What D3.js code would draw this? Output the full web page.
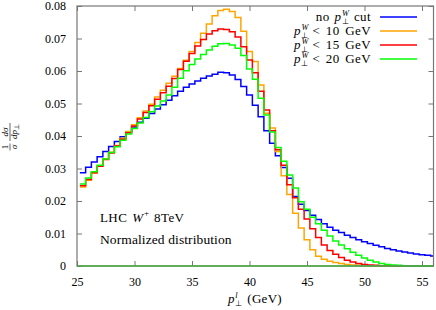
<!DOCTYPE html>
<html>
<head>
<meta charset="utf-8">
<script src="https://cdn.jsdelivr.net/npm/d3@7"></script>
<style>
body { margin: 0; background: #fff; }
text { font-family: 'Liberation Serif', 'Times New Roman', serif; fill: #000; }
</style>
</head>
<body>
<script>
// histogram bins: centres from 25.5 GeV, 0.5 GeV wide
var binStart = 25.5, binWidth = 0.5;

// normalized p_T^l distributions
var noCut = [0.0287, 0.0304, 0.0320, 0.0336, 0.0352, 0.0368, 0.0383, 0.0398, 0.0413, 0.0428,
  0.0442, 0.0455, 0.0469, 0.0483, 0.0496, 0.0510, 0.0524, 0.0538, 0.0550, 0.0560,
  0.0569, 0.0578, 0.0585, 0.0590, 0.0596, 0.0595, 0.0588, 0.0574, 0.0552, 0.0526,
  0.0495, 0.0459, 0.0416, 0.0378, 0.0339, 0.0303, 0.0270, 0.0214, 0.0190, 0.0171,
  0.0156, 0.0143, 0.0130, 0.0119, 0.0110, 0.0103, 0.0095, 0.0088, 0.0081, 0.0075,
  0.0069, 0.0064, 0.0059, 0.0054, 0.0050, 0.0046, 0.0043, 0.0040, 0.0037, 0.0035,
  0.0033, 0.0031];
var cut10 = [0.0243, 0.0264, 0.0286, 0.0308, 0.0329, 0.0350, 0.0371, 0.0393, 0.0414, 0.0435,
  0.0456, 0.0477, 0.0498, 0.0520, 0.0541, 0.0562, 0.0584, 0.0608, 0.0633, 0.0660,
  0.0688, 0.0716, 0.0745, 0.0770, 0.0786, 0.0790, 0.0783, 0.0765, 0.0722, 0.0660,
  0.0629, 0.0557, 0.0470, 0.0425, 0.0352, 0.0278, 0.0220, 0.0162, 0.0117, 0.0081,
  0.0050, 0.0030, 0.0021, 0.0015, 0.0011, 0.0008, 0.0005, 0.0003, 0.0002, 0.0001,
  0, 0, 0, 0, 0, 0, 0, 0, 0, 0, 0, 0];
var cut15 = [0.0247, 0.0266, 0.0287, 0.0307, 0.0328, 0.0348, 0.0369, 0.0390, 0.0410, 0.0431,
  0.0452, 0.0472, 0.0493, 0.0513, 0.0533, 0.0553, 0.0577, 0.0605, 0.0630, 0.0654,
  0.0677, 0.0697, 0.0714, 0.0724, 0.0729, 0.0728, 0.0721, 0.0705, 0.0675, 0.0634,
  0.0595, 0.0538, 0.0480, 0.0416, 0.0358, 0.0310, 0.0250, 0.0210, 0.0175, 0.0145,
  0.0115, 0.0088, 0.0065, 0.0048, 0.0036, 0.0026, 0.0018, 0.0012, 0.0008, 0.0005,
  0.0003, 0.0002, 0.0001, 0.0001, 0, 0, 0, 0, 0, 0, 0, 0];
var cut20 = [0.0252, 0.0271, 0.0290, 0.0310, 0.0329, 0.0349, 0.0367, 0.0387, 0.0406, 0.0423,
  0.0440, 0.0457, 0.0475, 0.0492, 0.0508, 0.0526, 0.0550, 0.0578, 0.0601, 0.0620,
  0.0637, 0.0651, 0.0665, 0.0676, 0.0684, 0.0685, 0.0680, 0.0670, 0.0648, 0.0606,
  0.0575, 0.0516, 0.0465, 0.0412, 0.0365, 0.0322, 0.0280, 0.0240, 0.0198, 0.0175,
  0.0150, 0.0130, 0.0110, 0.0092, 0.0077, 0.0065, 0.0053, 0.0042, 0.0033, 0.0025,
  0.0018, 0.0012, 0.0008, 0.0005, 0.0003, 0.0002, 0.0001, 0, 0, 0, 0, 0];

var seriesData = [noCut, cut10, cut15, cut20];
var seriesColors = ['#0000ff', '#ffa500', '#ff0000', '#00ff00'];
var legendCuts = [null, '10', '15', '20'];

var xTicks = [25, 30, 35, 40, 45, 50, 55];
var yTicks = [0, 0.01, 0.02, 0.03, 0.04, 0.05, 0.06, 0.07, 0.08];

var width = 436, height = 310;
// plot box (note: 'top' is reserved on window, so prefixed names)
var pLeft = 77, pRight = 433.5, pTop = 6, pBottom = 266;
var frameColor = '#777';

var svg = d3.select('body').append('svg').attr('width', width).attr('height', height);

var x = d3.scaleLinear().domain([25, 56]).range([pLeft, pRight]);
var y = d3.scaleLinear().domain([0, 0.08]).range([pBottom, pTop]);

svg.append('clipPath').attr('id', 'plotclip')
  .append('rect').attr('x', pLeft).attr('y', pTop - 2).attr('width', pRight - pLeft).attr('height', pBottom - pTop + 4);

//ticks (inward, all four sides)
function styleAxis(g) {
  g.select('.domain').remove();
  g.selectAll('line').attr('stroke', frameColor).attr('stroke-width', 1);
  g.selectAll('text').style('font-family', "'Liberation Serif', serif").style('font-size', '12px').attr('fill', '#000');
}
svg.append('g').attr('transform', 'translate(0,' + pBottom + ')')
  .call(d3.axisBottom(x).tickValues(xTicks).tickSize(-5).tickPadding(11).tickFormat(d3.format('d')))
  .call(styleAxis);
svg.append('g').attr('transform', 'translate(0,' + pTop + ')')
  .call(d3.axisTop(x).tickValues(xTicks).tickSize(-5).tickFormat(''))
  .call(styleAxis);
svg.append('g').attr('transform', 'translate(' + pLeft + ',0)')
  .call(d3.axisLeft(y).tickValues(yTicks).tickSize(-5).tickPadding(11)
    .tickFormat(function (d) { return d === 0 ? '0' : d3.format('.2f')(d); }))
  .call(styleAxis);
svg.append('g').attr('transform', 'translate(' + pRight + ',0)')
  .call(d3.axisRight(y).tickValues(yTicks).tickSize(-5).tickFormat(''))
  .call(styleAxis);

// histogram steps
var line = d3.line().x(function (d) { return x(d[0]); }).y(function (d) { return y(d[1]); });
function steps(vals) {
  var pts = [];
  vals.forEach(function (v, i) {
    var c = binStart + i * binWidth;
    pts.push([c - binWidth / 2, v]);
    pts.push([c + binWidth / 2, v]);
  });
  return pts;
}
var plot = svg.append('g').attr('clip-path', 'url(#plotclip)');
seriesData.forEach(function (vals, i) {
  plot.append('path')
    .attr('d', line(steps(vals)))
    .attr('fill', 'none')
    .attr('stroke', seriesColors[i])
    .attr('stroke-width', 1.5);
});
// zero line along the bottom
plot.append('line').attr('x1', pLeft).attr('x2', pRight).attr('y1', y(0)).attr('y2', y(0))
  .attr('stroke', seriesColors[3]).attr('stroke-width', 1.5);

svg.append('rect').attr('x', pLeft).attr('y', pTop).attr('width', pRight - pLeft).attr('height', pBottom - pTop)
  .attr('fill', 'none').attr('stroke', frameColor).attr('stroke-width', 1.2);

// p with stacked indices
function pIdx(g, px, py, sup, size) {
  var p = g.append('text').attr('x', px).attr('y', py).style('font-size', size + 'px').style('font-style', 'italic').text('p');
  var w = p.node().getComputedTextLength();
  var s = size * 0.64;
  var a = g.append('text').attr('x', px + w + 0.8).attr('y', py - size * 0.37).style('font-size', s + 'px').style('font-style', 'italic').text(sup);
  var b = g.append('text').attr('x', px + w + 0.8).attr('y', py + size * 0.22).style('font-size', s + 'px').text('\u22a5');
  return px + w + 0.8 + Math.max(a.node().getComputedTextLength(), b.node().getComputedTextLength()) + 1;
}
function word(g, px, py, str, size, italic, spacing, wspace) {
  var t = g.append('text').attr('x', px).attr('y', py).style('font-size', size + 'px')
    .style('font-style', italic ? 'italic' : 'normal').style('white-space', 'pre')
    .style('letter-spacing', (spacing || 0) + 'px').style('word-spacing', (wspace || 0) + 'px').text(str);
  return px + t.node().getComputedTextLength();
}

// legend
var legY = [17, 31, 45, 59];
var legSize = 13;
legendCuts.forEach(function (c, i) {
  var g = svg.append('g');
  var ty = legY[i] + 4;
  var ex;
  if (c === null) {
    ex = word(g, 0, ty, 'no', legSize, false, 0.4);
    ex = pIdx(g, ex + 5, ty, 'W', legSize);
    ex = word(g, ex + 4, ty, 'cut', legSize, false, 0.4);
  } else {
    ex = pIdx(g, 0, ty, 'W', legSize);
    ex = word(g, ex + 3, ty, '< ' + c + ' GeV', legSize, false, 0.4, 2);
  }
  g.attr('transform', 'translate(' + (371 - ex) + ',0)');
  svg.append('line').attr('x1', 380).attr('x2', 417).attr('y1', legY[i]).attr('y2', legY[i])
    .attr('stroke', seriesColors[i]).attr('stroke-width', 1.5);
});

// x label
var xl = svg.append('g');
var xe = pIdx(xl, 0, 303, 'l', 13);
xe = word(xl, xe + 4, 303, '(GeV)', 13, false, 0.3);
xl.attr('transform', 'translate(' + (255 - xe / 2) + ',0)');

// y label: 1/sigma dsigma/dp
var yl = svg.append('g').attr('transform', 'translate(10,137) rotate(-90)');
yl.append('text').attr('x', -10).attr('y', -2).attr('text-anchor', 'middle').style('font-size', '9px').text('1');
yl.append('text').attr('x', -10).attr('y', 7).attr('text-anchor', 'middle').style('font-size', '9px').style('font-style', 'italic').text('\u03c3');
yl.append('line').attr('x1', -13.5).attr('x2', -6.5).attr('y1', 0).attr('y2', 0).attr('stroke', '#000').attr('stroke-width', 0.6);
yl.append('text').attr('x', 5).attr('y', -2).attr('text-anchor', 'middle').style('font-size', '9px').style('font-style', 'italic').text('d\u03c3');
yl.append('text').attr('x', -2).attr('y', 7).style('font-size', '9px').style('font-style', 'italic').text('dp');
yl.append('text').attr('x', 7.5).attr('y', 9).style('font-size', '6.5px').text('\u22a5');
yl.append('line').attr('x1', -4).attr('x2', 14).attr('y1', 0).attr('y2', 0).attr('stroke', '#000').attr('stroke-width', 0.6);

// annotations
var an = svg.append('g');
var ax = word(an, 100, 222, 'LHC', 13, false, 0.4);
ax = word(an, ax + 5, 222, 'W', 13, true);
an.append('text').attr('x', ax + 1).attr('y', 216).style('font-size', '9px').text('+');
word(an, ax + 11, 222, '8TeV', 13, false, 0.4);
word(an, 100, 244, 'Normalized distribution', 13.5, false, 0.1);
</script>
</body>
</html>
